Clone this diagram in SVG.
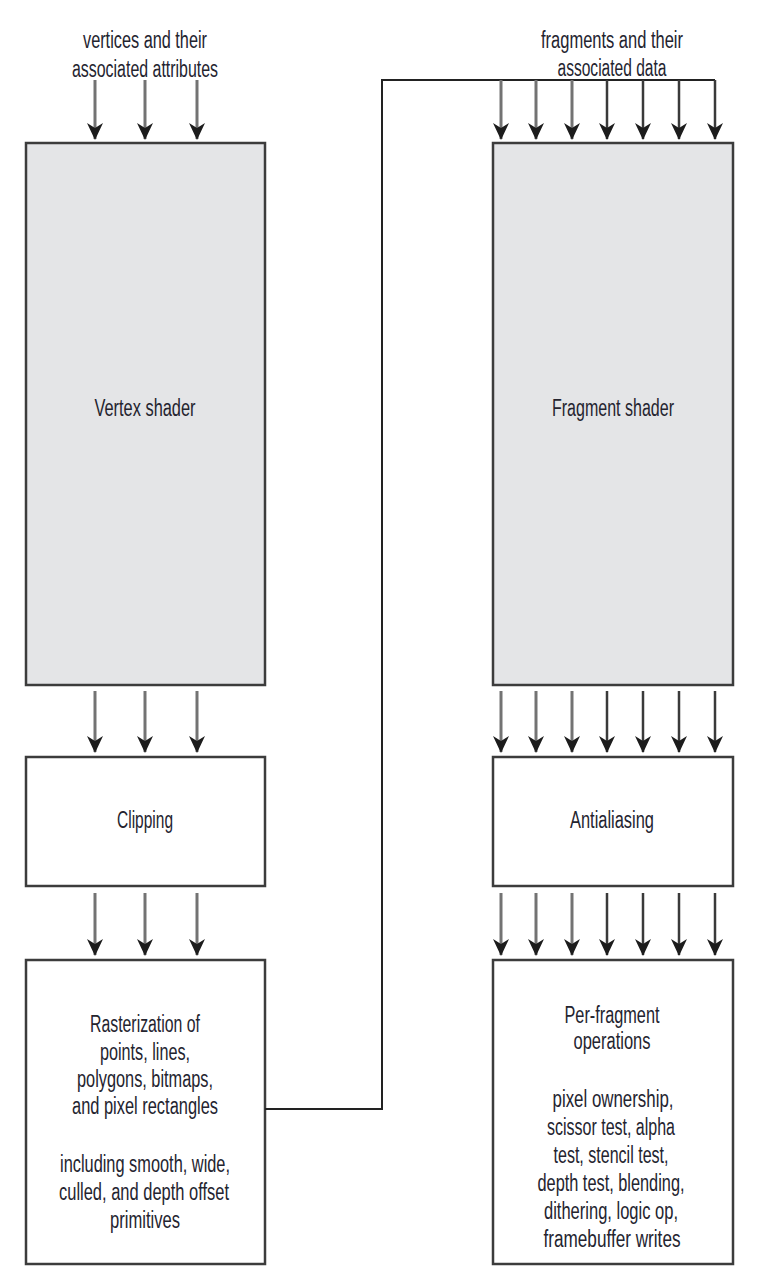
<svg xmlns="http://www.w3.org/2000/svg" width="758" height="1276" viewBox="0 0 758 1276">
  <style>
    .box { stroke: #3c3c3c; stroke-width: 2.5; }
    .shader { fill: #e4e5e7; }
    .plain { fill: #ffffff; }
    .t { font-family: "Liberation Sans Narrow", "Liberation Sans", Arial, sans-serif; font-size: 23px; fill: #24242f; text-anchor: middle; }
    .arr { stroke: #737373; stroke-width: 3; fill: none; marker-end: url(#ah); }
    .arrd { stroke: #3a3a3a; stroke-width: 2.5; fill: none; marker-end: url(#ah); }
    .wire { stroke: #222222; stroke-width: 2; fill: none; }
  </style>
  <defs>
    <marker id="ah" markerUnits="userSpaceOnUse" markerWidth="18" markerHeight="18" viewBox="0 0 18 18" refX="16" refY="9" orient="auto">
      <path d="M0,1 L17,9 L0,17 L5,9 Z" fill="#1c1c1c"/>
    </marker>
  </defs>
  <rect width="758" height="1276" fill="#ffffff"/>

  <g id="input-labels">
    <text class="t" x="145" y="48" textLength="124" lengthAdjust="spacingAndGlyphs">vertices and their</text>
    <text class="t" x="145" y="77" textLength="146" lengthAdjust="spacingAndGlyphs">associated attributes</text>
    <text class="t" x="612" y="48" textLength="142" lengthAdjust="spacingAndGlyphs">fragments and their</text>
    <text class="t" x="612" y="76" textLength="109" lengthAdjust="spacingAndGlyphs">associated data</text>
  </g>

  <g id="vertex-shader">
    <rect class="box shader" x="26" y="143" width="239" height="542"/>
    <text class="t" x="145" y="416" textLength="101" lengthAdjust="spacingAndGlyphs">Vertex shader</text>
  </g>
  <g id="clipping">
    <rect class="box plain" x="26" y="757" width="239" height="129"/>
    <text class="t" x="145" y="828" textLength="56" lengthAdjust="spacingAndGlyphs">Clipping</text>
  </g>
  <g id="rasterization">
    <rect class="box plain" x="26" y="960" width="239" height="304"/>
    <text class="t" x="145" y="1032" textLength="110" lengthAdjust="spacingAndGlyphs">Rasterization of</text>
    <text class="t" x="145" y="1060" textLength="90" lengthAdjust="spacingAndGlyphs">points, lines,</text>
    <text class="t" x="145" y="1087" textLength="136" lengthAdjust="spacingAndGlyphs">polygons, bitmaps,</text>
    <text class="t" x="145" y="1114" textLength="146" lengthAdjust="spacingAndGlyphs">and pixel rectangles</text>
    <text class="t" x="145" y="1172" textLength="170" lengthAdjust="spacingAndGlyphs">including smooth, wide,</text>
    <text class="t" x="144" y="1200" textLength="170" lengthAdjust="spacingAndGlyphs">culled, and depth offset</text>
    <text class="t" x="145" y="1228" textLength="70" lengthAdjust="spacingAndGlyphs">primitives</text>
  </g>

  <g id="fragment-shader">
    <rect class="box shader" x="493" y="143" width="240" height="542"/>
    <text class="t" x="613" y="416" textLength="122" lengthAdjust="spacingAndGlyphs">Fragment shader</text>
  </g>
  <g id="antialiasing">
    <rect class="box plain" x="493" y="757" width="240" height="129"/>
    <text class="t" x="612" y="828" textLength="84" lengthAdjust="spacingAndGlyphs">Antialiasing</text>
  </g>
  <g id="per-fragment">
    <rect class="box plain" x="493" y="960" width="240" height="304"/>
    <text class="t" x="612" y="1023" textLength="95" lengthAdjust="spacingAndGlyphs">Per-fragment</text>
    <text class="t" x="612" y="1049" textLength="77" lengthAdjust="spacingAndGlyphs">operations</text>
    <text class="t" x="613" y="1107" textLength="121" lengthAdjust="spacingAndGlyphs">pixel ownership,</text>
    <text class="t" x="611" y="1135" textLength="128" lengthAdjust="spacingAndGlyphs">scissor test, alpha</text>
    <text class="t" x="611" y="1163" textLength="115" lengthAdjust="spacingAndGlyphs">test, stencil test,</text>
    <text class="t" x="611" y="1191" textLength="147" lengthAdjust="spacingAndGlyphs">depth test, blending,</text>
    <text class="t" x="611" y="1219" textLength="134" lengthAdjust="spacingAndGlyphs">dithering, logic op,</text>
    <text class="t" x="612" y="1247" textLength="137" lengthAdjust="spacingAndGlyphs">framebuffer writes</text>
  </g>

  <g id="connectors">
    <polyline class="wire" points="265,1109 382,1109 382,80 715,80"/>
    <line class="arr" x1="95" y1="80" x2="95" y2="139"/>
    <line class="arr" x1="145" y1="80" x2="145" y2="139"/>
    <line class="arr" x1="197" y1="80" x2="197" y2="139"/>
    <line class="arr" x1="95" y1="691" x2="95" y2="752"/>
    <line class="arr" x1="145" y1="691" x2="145" y2="752"/>
    <line class="arr" x1="197" y1="691" x2="197" y2="752"/>
    <line class="arr" x1="95" y1="893" x2="95" y2="955"/>
    <line class="arr" x1="145" y1="893" x2="145" y2="955"/>
    <line class="arr" x1="197" y1="893" x2="197" y2="955"/>
    <line class="arr" x1="501" y1="80" x2="501" y2="139"/>
    <line class="arr" x1="536" y1="80" x2="536" y2="139"/>
    <line class="arr" x1="572" y1="80" x2="572" y2="139"/>
    <line class="arrd" x1="607" y1="80" x2="607" y2="139"/>
    <line class="arrd" x1="643" y1="80" x2="643" y2="139"/>
    <line class="arrd" x1="679" y1="80" x2="679" y2="139"/>
    <line class="arrd" x1="715" y1="80" x2="715" y2="139"/>
    <line class="arr" x1="501" y1="691" x2="501" y2="752"/>
    <line class="arr" x1="536" y1="691" x2="536" y2="752"/>
    <line class="arr" x1="572" y1="691" x2="572" y2="752"/>
    <line class="arrd" x1="607" y1="691" x2="607" y2="752"/>
    <line class="arrd" x1="643" y1="691" x2="643" y2="752"/>
    <line class="arrd" x1="679" y1="691" x2="679" y2="752"/>
    <line class="arrd" x1="715" y1="691" x2="715" y2="752"/>
    <line class="arr" x1="501" y1="893" x2="501" y2="955"/>
    <line class="arr" x1="536" y1="893" x2="536" y2="955"/>
    <line class="arr" x1="572" y1="893" x2="572" y2="955"/>
    <line class="arrd" x1="607" y1="893" x2="607" y2="955"/>
    <line class="arrd" x1="643" y1="893" x2="643" y2="955"/>
    <line class="arrd" x1="679" y1="893" x2="679" y2="955"/>
    <line class="arrd" x1="715" y1="893" x2="715" y2="955"/>
  </g>
</svg>
